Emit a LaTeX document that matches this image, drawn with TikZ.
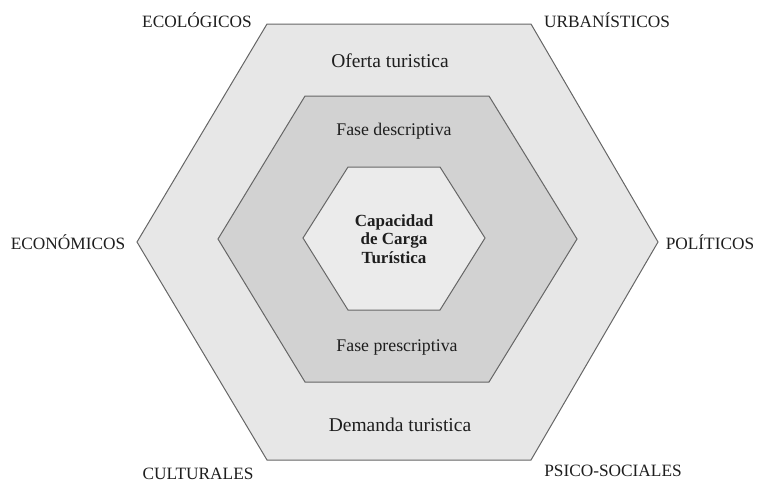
\documentclass[tikz,border=0pt]{standalone}
\usepackage{fontspec}
\setmainfont{Liberation Serif}
\definecolor{outerfill}{HTML}{E7E7E7}
\definecolor{midfill}{HTML}{D2D2D2}
\definecolor{innerfill}{HTML}{EBEBEB}
\definecolor{edge}{HTML}{666666}
\definecolor{ink}{HTML}{1E1E1E}
\begin{document}
\begin{tikzpicture}[x=1pt,y=-1pt,
  hexa/.style={draw=edge,line width=1pt,line join=miter},
  caplabel/.style={text=ink,font=\fontsize{17.3}{19}\selectfont,inner sep=0pt},
  ringlabel/.style={text=ink,font=\fontsize{19.5}{21}\selectfont,inner sep=0pt},
  faselabel/.style={text=ink,font=\fontsize{17.8}{20}\selectfont,inner sep=0pt},
  corelabel/.style={text=ink,font=\fontsize{17}{18.5}\selectfont\bfseries,align=center,inner sep=0pt}]
\useasboundingbox (0,0) rectangle (759,483);
% hexagons
\path[hexa,fill=outerfill] (267,24) -- (531,24) -- (658,242) -- (531,460) -- (267,460) -- (137,242) -- cycle;
\path[hexa,fill=midfill] (305,96) -- (489,96) -- (577,239) -- (489,382) -- (305,382) -- (218,239) -- cycle;
\path[hexa,fill=innerfill] (348,167) -- (440,167) -- (485,238) -- (440,310) -- (348,310) -- (303,238) -- cycle;
% ring texts
\node[ringlabel] (oferta) at (390,61) {Oferta turistica};
\node[faselabel] (desc) at (394,131) {Fase descriptiva};
\node[corelabel] (core) at (394,239) {Capacidad\\de Carga\\Turística};
\node[faselabel] (presc) at (397,347) {Fase prescriptiva};
\node[ringlabel] (demanda) at (400,425) {Demanda turistica};
% outside labels
\node[caplabel] (eco) at (197,20) {ECOLÓGICOS};
\node[caplabel] (urb) at (607,20) {URBANÍSTICOS};
\node[caplabel] (econ) at (68,242) {ECONÓMICOS};
\node[caplabel] (pol) at (710,242) {POLÍTICOS};
\node[caplabel] (cult) at (198,474) {CULTURALES};
\node[caplabel] (psico) at (613,471) {PSICO-SOCIALES};
\end{tikzpicture}
\end{document}
